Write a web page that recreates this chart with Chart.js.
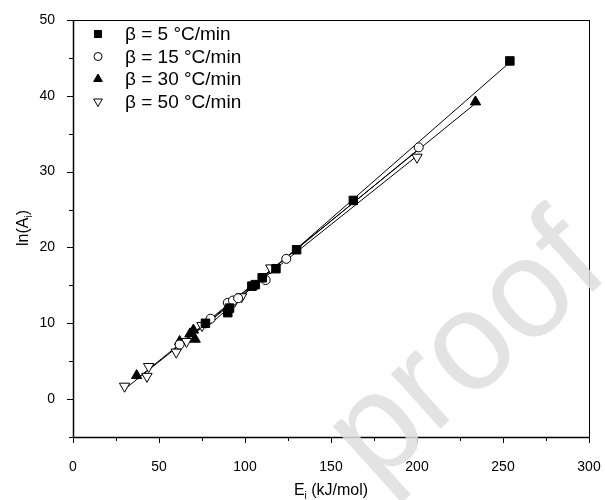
<!DOCTYPE html>
<html>
<head>
<meta charset="utf-8">
<script src="https://cdn.jsdelivr.net/npm/chart.js@4/dist/chart.umd.min.js"></script>
<style>
  html, body { margin: 0; padding: 0; background: #ffffff; }
  #wrap { width: 605px; height: 500px; }
</style>
</head>
<body>
<div id="wrap"><canvas id="lnChart" width="605" height="500"></canvas></div>
<script>
// heating rates (legend labels)
const rateLabels = ["β = 5 °C/min", "β = 15 °C/min", "β = 30 °C/min", "β = 50 °C/min"];

// E_i (kJ/mol) and ln(A_i) for each heating rate
const e5 = [77, 90, 91, 104, 106, 110, 118, 130, 163, 254];
const lnA5 = [10.0, 11.4, 12.0, 14.9, 15.1, 16.0, 17.2, 19.7, 26.2, 44.6];

const e15 = [62, 80, 90, 93, 96, 112, 124, 201];
const lnA15 = [7.2, 10.6, 12.7, 13.0, 13.3, 15.7, 18.5, 33.2];

const e30 = [37, 62, 68, 70, 71, 90, 104, 234];
const lnA30 = [3.1, 7.6, 8.6, 9.1, 7.9, 12.1, 14.8, 39.2];

const e50 = [30, 43, 44, 60, 66, 75, 94, 98, 115, 200];
const lnA50 = [1.7, 3.0, 4.3, 6.2, 7.6, 9.7, 12.9, 13.5, 17.3, 31.9];

// axis ticks
const xTicks = [0, 50, 100, 150, 200, 250, 300];
const yTicks = [0, 10, 20, 30, 40, 50];

const styles = [
  { pointStyle: "rect", rotation: 0, radius: 6, fill: "#000000" },
  { pointStyle: "circle", rotation: 0, radius: 4.5, fill: "#ffffff" },
  { pointStyle: "triangle", rotation: 0, radius: 6, fill: "#000000" },
  { pointStyle: "triangle", rotation: 180, radius: 6, fill: "#ffffff" },
];

const allE = [e5, e15, e30, e50];
const allLnA = [lnA5, lnA15, lnA30, lnA50];

function toPoints(xs, ys) {
  return xs.map((x, i) => ({ x: x, y: ys[i] }));
}

// least squares fit line between the smallest and largest E
function fitLine(xs, ys) {
  let n = xs.length;
  let sx = 0, sy = 0, sxx = 0, sxy = 0;
  for (let i = 0; i < n; i++) {
    sx += xs[i]; sy += ys[i];
    sxx += xs[i] * xs[i]; sxy += xs[i] * ys[i];
  }
  let b = (n * sxy - sx * sy) / (n * sxx - sx * sx);
  let a = (sy - b * sx) / n;
  let x0 = Math.min(...xs), x1 = Math.max(...xs);
  return [{ x: x0, y: a + b * x0 }, { x: x1, y: a + b * x1 }];
}

let datasets = [];
for (let i = 0; i < 4; i++) {
  datasets.push({
    label: rateLabels[i],
    data: toPoints(allE[i], allLnA[i]),
    pointStyle: styles[i].pointStyle,
    rotation: styles[i].rotation,
    pointRadius: styles[i].radius,
    pointBackgroundColor: styles[i].fill,
    pointBorderColor: "#000000",
    pointBorderWidth: 1,
    showLine: false,
    order: 0,
  });
}
for (let i = 0; i < 4; i++) {
  datasets.push({
    label: "fit " + rateLabels[i],
    data: fitLine(allE[i], allLnA[i]),
    showLine: true,
    borderColor: "#000000",
    borderWidth: 1,
    pointRadius: 0,
    order: 1,
  });
}

const frameAndTicks = {
  id: "frameAndTicks",
  afterDatasetsDraw(chart) {
    let ctx = chart.ctx;
    let area = chart.chartArea;
    let xs = chart.scales.x, ys = chart.scales.y;
    ctx.save();
    ctx.strokeStyle = "#000000";
    ctx.lineWidth = 1;
    ctx.strokeRect(area.left + 0.5, area.top + 0.5, area.right - area.left, area.bottom - area.top);
    ctx.lineWidth = 1.5;
    ctx.beginPath();
    ctx.moveTo(area.left, area.bottom + 0.5);
    ctx.lineTo(area.right + 1, area.bottom + 0.5);
    ctx.moveTo(area.left + 0.5, area.top);
    ctx.lineTo(area.left + 0.5, area.bottom + 1);
    ctx.stroke();
    ctx.lineWidth = 1;
    ctx.beginPath();
    for (let v = 0; v <= 300; v += 25) {
      let px = Math.round(xs.getPixelForValue(v)) + 0.5;
      let len = xTicks.includes(v) ? 6 : 4;
      ctx.moveTo(px, area.bottom);
      ctx.lineTo(px, area.bottom + len);
    }
    for (let v = -5; v <= 50; v += 5) {
      let py = Math.round(ys.getPixelForValue(v)) + 0.5;
      let len = yTicks.includes(v) ? 6 : 4;
      ctx.moveTo(area.left, py);
      ctx.lineTo(area.left - len, py);
    }
    ctx.stroke();
    ctx.restore();
  },
  afterDraw(chart) {
    let ctx = chart.ctx;
    ctx.save();

    // legend
    ctx.font = "19px 'Liberation Sans', Arial, sans-serif";
    ctx.textBaseline = "middle";
    ctx.textAlign = "left";
    for (let i = 0; i < 4; i++) {
      let y = 34 + i * 22.5;
      ctx.fillStyle = styles[i].fill;
      ctx.strokeStyle = "#000000";
      ctx.lineWidth = 1;
      Chart.helpers.drawPoint(ctx, {
        pointStyle: styles[i].pointStyle,
        rotation: styles[i].rotation,
        radius: styles[i].pointStyle === "circle" ? 4 : 5,
        borderWidth: 1,
      }, 98, y);
      ctx.fillStyle = "#000000";
      ctx.fillText(rateLabels[i], 125, y + 1);
    }

    // axis titles with subscript i
    ctx.fillStyle = "#000000";
    ctx.textBaseline = "alphabetic";
    let big = "16px 'Liberation Sans', Arial, sans-serif";
    let small = "10px 'Liberation Sans', Arial, sans-serif";
    function subTitle(pre, sub, post) {
      ctx.font = big;
      let w1 = ctx.measureText(pre).width;
      let w3 = ctx.measureText(post).width;
      ctx.font = small;
      let w2 = ctx.measureText(sub).width;
      let x = -(w1 + w2 + w3) / 2;
      ctx.font = big;
      ctx.fillText(pre, x, 0);
      ctx.font = small;
      ctx.fillText(sub, x + w1, 4);
      ctx.font = big;
      ctx.fillText(post, x + w1 + w2, 0);
    }
    ctx.textAlign = "left";
    ctx.save();
    ctx.translate(331, 495);
    subTitle("E", "i", " (kJ/mol)");
    ctx.restore();
    ctx.save();
    ctx.translate(28, 228);
    ctx.rotate(-Math.PI / 2);
    subTitle("ln(A", "i", ")");
    ctx.restore();

    // watermark
    ctx.save();
    ctx.translate(468, 352);
    ctx.rotate(-42 * Math.PI / 180);
    ctx.font = "140px 'Liberation Sans', Arial, sans-serif";
    ctx.fillStyle = "rgba(222, 222, 222, 0.85)";
    ctx.textAlign = "center";
    ctx.textBaseline = "middle";
    ctx.fillText("proof", 0, 0);
    ctx.restore();

    ctx.restore();
  },
};

let ctx = document.getElementById("lnChart").getContext("2d");
let myChart = new Chart(ctx, {
  type: "scatter",
  data: { datasets: datasets },
  options: {
    responsive: false,
    animation: false,
    layout: { padding: { top: 20, right: 16, left: 0, bottom: 0 } },
    plugins: {
      legend: { display: false },
      tooltip: { enabled: false },
    },
    scales: {
      x: {
        type: "linear",
        min: 0,
        max: 300,
        grid: { display: false },
        border: { display: false },
        ticks: {
          stepSize: 50,
          padding: 14,
          color: "#000000",
          font: { family: "'Liberation Sans', Arial, sans-serif", size: 14 },
          maxRotation: 0,
        },
        afterFit(scale) {
          scale.height = 63;
          scale.paddingLeft = 0;
          scale.paddingRight = 0;
        },
      },
      y: {
        type: "linear",
        min: -5,
        max: 50,
        grid: { display: false },
        border: { display: false },
        ticks: {
          stepSize: 5,
          padding: 10,
          color: "#000000",
          font: { family: "'Liberation Sans', Arial, sans-serif", size: 14 },
          callback: (v) => (yTicks.includes(v) ? String(v) : ""),
        },
        afterFit(scale) {
          scale.width = 73;
          scale.paddingTop = 0;
          scale.paddingBottom = 0;
        },
      },
    },
  },
  plugins: [frameAndTicks],
});
</script>
</body>
</html>
